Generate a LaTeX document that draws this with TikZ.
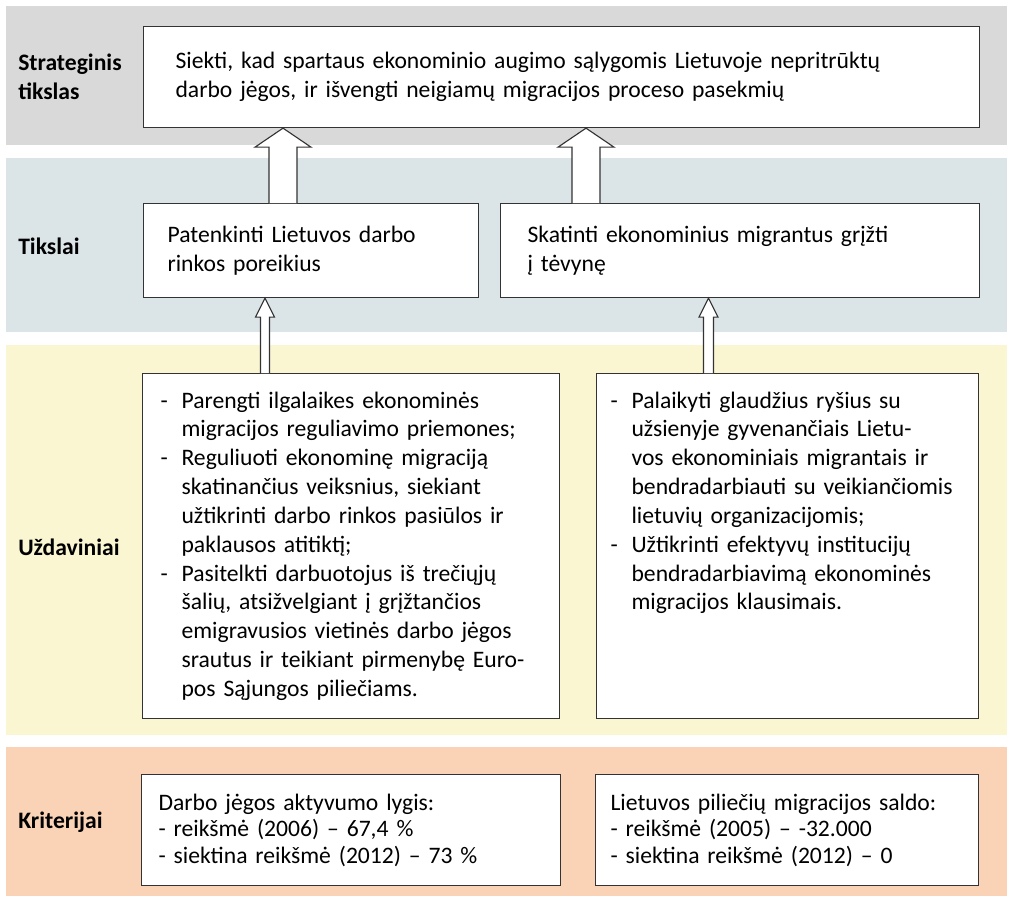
\documentclass[tikz,border=0pt]{standalone}
\usepackage{fontspec}
\setmainfont{Carlito}
\usepackage{tikz}
\usetikzlibrary{calc}
\definecolor{pilka}{RGB}{217,217,217}
\definecolor{melyna}{RGB}{219,228,231}
\definecolor{geltona}{RGB}{250,246,210}
\definecolor{oranzine}{RGB}{250,211,182}
\tikzstyle{langas}=[rectangle, draw=black!80, line width=0.8pt, fill=white, anchor=north west, align=left, font=\fontsize{16.8}{20.5}\selectfont]
\tikzstyle{antraste}=[anchor=west, align=left, inner sep=0pt, font=\fontsize{16.8}{21}\selectfont\bfseries]
\tikzstyle{rodykle}=[draw=black!80, line width=0.8pt, fill=white]
% punktas su bruksniu
\newcommand{\punktas}[1]{\noindent\hangindent=0.525cm\hangafter=1\makebox[0.525cm][l]{-}#1\par}
% bloko rodykle: nuo, iki, x, koto puse, galvos puse, galvos ilgis
\newcommand{\blokorodykle}[6]{%
  \draw[rodykle] ($(#1 -| #3)+(-#4,0)$) -- ($(#2 -| #3)+(-#4,#6)$)
    -- ($(#2 -| #3)+(-#5,#6)$) -- (#2 -| #3) -- ($(#2 -| #3)+(#5,#6)$)
    -- ($(#2 -| #3)+(#4,#6)$) -- ($(#1 -| #3)+(#4,0)$);}

\begin{document}
\begin{tikzpicture}[x=0.025cm, y=-0.025cm]
  \useasboundingbox (0,0) rectangle (1010,900);

  % Juostos
  \fill[pilka] (6,6) rectangle (1007,145);
  \fill[melyna] (6,158) rectangle (1007,332);
  \fill[geltona] (6,345) rectangle (1007,735);
  \fill[oranzine] (6,747) rectangle (1007,896);

  % Antrastes
  \node[antraste] (lStrat) at (18,77) {Strateginis\\tikslas};
  \node[antraste] (lTiks) at (18,246) {Tikslai};
  \node[antraste] (lUzd) at (18,547) {Uždaviniai};
  \node[antraste] (lKrit) at (18,822) {Kriterijai};

  % Strateginis tikslas
  \node[langas, inner xsep=0.8cm, text width=19.3cm, minimum height=2.525cm] (tikslas) at (143,26)
    {Siekti, kad spartaus ekonominio augimo sąlygomis Lietuvoje nepritrūktų\\darbo jėgos, ir išvengti neigiamų migracijos proceso pasekmių};

  % Tikslai
  \node[langas, inner xsep=0.6cm, text width=7.175cm, minimum height=2.35cm] (tL) at (143,203)
    {Patenkinti Lietuvos darbo\\rinkos poreikius};
  \node[langas, inner xsep=0.675cm, text width=10.625cm, minimum height=2.35cm] (tR) at (500,203)
    {Skatinti ekonominius migrantus grįžti\\į tėvynę};

  % Uzdaviniai
  \node[langas, inner xsep=0.45cm, text width=9.525cm, inner ysep=0.2cm, text height=0.6625cm, text depth=7.5625cm] (uL) at (142,373)
    {\punktas{Parengti ilgalaikes ekonominės\newline migracijos reguliavimo priemones;}
     \punktas{Reguliuoti ekonominę migraciją\newline skatinančius veiksnius, siekiant\newline užtikrinti darbo rinkos pasiūlos ir\newline paklausos atitiktį;}
     \punktas{Pasitelkti darbuotojus iš trečiųjų\newline šalių, atsižvelgiant į grįžtančios\newline emigravusios vietinės darbo jėgos\newline srautus ir teikiant pirmenybę Euro-\newline pos Sąjungos piliečiams.}};
  \node[langas, inner xsep=0.35cm, text width=8.85cm, inner ysep=0.2cm, text height=0.6625cm, text depth=7.5625cm] (uR) at (596,373)
    {\punktas{Palaikyti glaudžius ryšius su\newline užsienyje gyvenančiais Lietu-\newline vos ekonominiais migrantais ir\newline bendradarbiauti su veikiančiomis\newline lietuvių organizacijomis;}
     \punktas{Užtikrinti efektyvų institucijų\newline bendradarbiavimą ekonominės\newline migracijos klausimais.}};

  % Kriterijai
  \node[langas, inner xsep=0.425cm, text width=9.625cm, minimum height=2.775cm, font=\fontsize{16.8}{18.8}\selectfont] (kL) at (141,774)
    {Darbo jėgos aktyvumo lygis:\\- reikšmė (2006) – 67,4 \%\\- siektina reikšmė (2012) – 73 \%};
  \node[langas, inner xsep=0.375cm, text width=8.825cm, minimum height=2.775cm, font=\fontsize{16.8}{18.8}\selectfont] (kR) at (595,774)
    {Lietuvos piliečių migracijos saldo:\\- reikšmė (2005) – -32.000\\- siektina reikšmė (2012) – 0};

  % Rodykles
  \coordinate (xA) at (283,0);
  \coordinate (xB) at (586,0);
  \coordinate (xC) at (265,0);
  \coordinate (xD) at (708.5,0);
  \blokorodykle{tL.north}{tikslas.south}{xA}{14}{28}{19}
  \blokorodykle{tR.north}{tikslas.south}{xB}{14}{28}{19}
  \blokorodykle{uL.north}{tL.south}{xC}{4.5}{9.5}{19}
  \blokorodykle{uR.north}{tR.south}{xD}{5}{9.5}{19}
\end{tikzpicture}
\end{document}
